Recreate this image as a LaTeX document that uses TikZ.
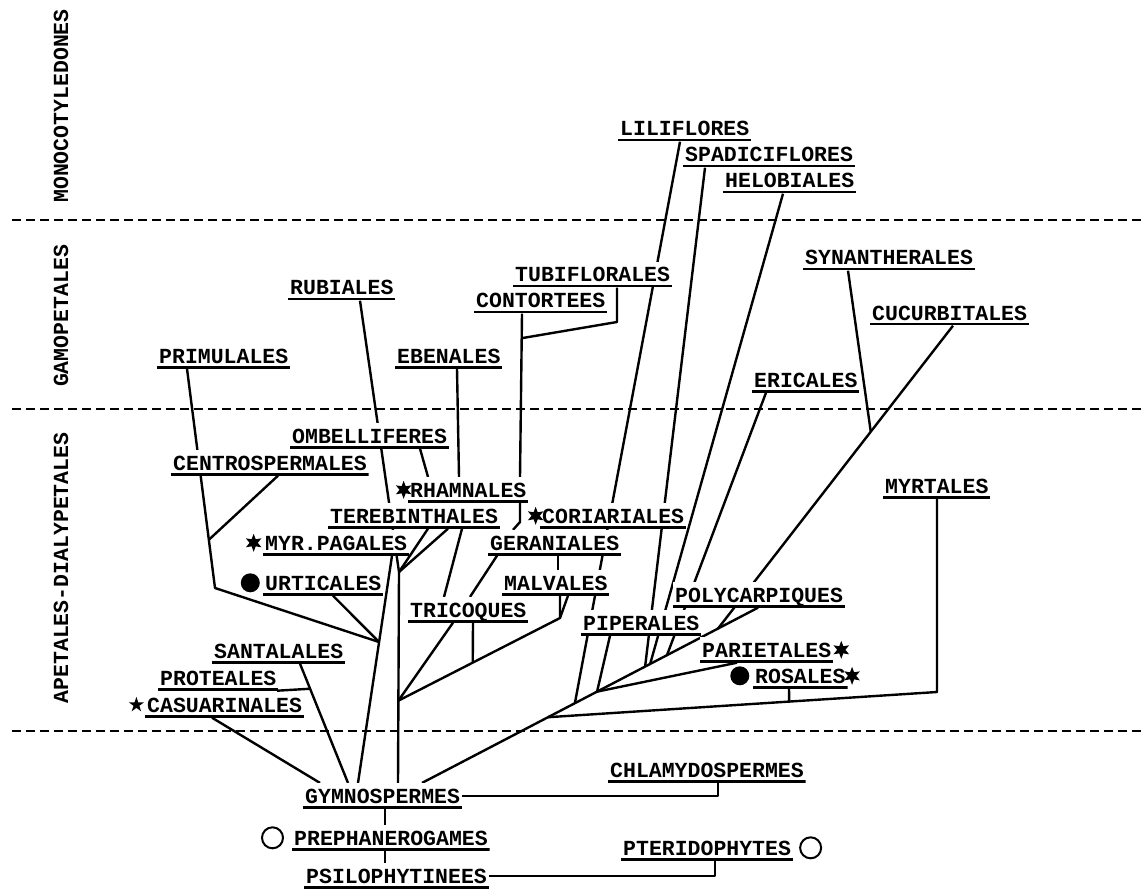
\documentclass[tikz,border=0pt]{standalone}
\usepackage{fontspec}
\newfontfamily\machine{Liberation Mono}
\usetikzlibrary{positioning}
\usetikzlibrary{shapes.geometric}
\usetikzlibrary{calc}
\pgfdeclarelayer{background}
\pgfsetlayers{background,main}

\begin{document}
\begin{tikzpicture}[x=1pt,y=-1pt,
  ordre/.style={font=\machine\bfseries\fontsize{21.5}{24}\selectfont,
    anchor=base west,fill=white,inner xsep=2pt,inner ysep=5.5pt,text depth=0pt,
    path picture={\draw[line width=2.6pt]
      ([yshift=1.3pt]path picture bounding box.south west) --
      ([yshift=1.3pt]path picture bounding box.south east);}},
  cote/.style={font=\machine\bfseries\fontsize{21.5}{24}\selectfont,rotate=90},
  lien/.style={black,line width=2.4pt,line join=round},
  tiret/.style={black,line width=2.2pt,dash pattern=on 9pt off 5pt},
  etoile/.style={star,star points=6,star point ratio=2.2,fill=black,inner sep=0pt,minimum size=18pt},
  disque/.style={circle,fill=black,inner sep=0pt,minimum size=19pt},
  rond/.style={circle,draw=black,line width=2pt,inner sep=0pt,minimum size=21pt}]

\useasboundingbox (0,0) rectangle (1145,890);

\foreach \Yc in {220,409,731}
{
  \draw[tiret] (12,\Yc) -- (1145,\Yc);
}

\node[cote] (mono) at (61,106) {MONOCOTYLEDONES};
\node[cote] (gamo) at (61,316) {GAMOPETALES};
\node[cote] (apet) at (61,568) {APETALES-DIALYPETALES};

% ordres
\foreach \nom/\Xc/\Yc/\texto in {lili/618/136/LILIFLORES,spad/683/162/SPADICIFLORES,
  helo/723/188/HELOBIALES,tubi/513/282/TUBIFLORALES,cont/474/308/CONTORTEES,
  rubi/288/295/RUBIALES,syna/803/265/SYNANTHERALES,cucu/870/320/CUCURBITALES,
  prim/157/363/PRIMULALES,eben/395/363/EBENALES,eric/752/387/ERICALES,
  ombe/290/443/OMBELLIFERES,cent/171/470/CENTROSPERMALES,rham/408/497/RHAMNALES,
  myrt/883/493/MYRTALES,tere/328/523/TEREBINTHALES,cori/540/523/CORIARIALES,
  gera/488/550/GERANIALES,myrp/263/550/MYR.PAGALES,urti/263/590/URTICALES,
  malv/502/590/MALVALES,poly/673/602/POLYCARPIQUES,tric/408/617/TRICOQUES,
  pipe/581/630/PIPERALES,pari/700/657/PARIETALES,rosa/753/683/ROSALES,
  sant/212/658/SANTALALES,prot/158/685/PROTEALES,casu/145/712/CASUARINALES,
  chla/608/777/CHLAMYDOSPERMES,gymn/303/803/GYMNOSPERMES,prep/292/845/PREPHANEROGAMES,
  pter/621/855/PTERIDOPHYTES,psil/304/883/PSILOPHYTINEES}
{
  \node[ordre] (\nom) at (\Xc,\Yc) {\texto};
}

\node[etoile,left=0pt of rham] (srham) {};
\node[etoile,left=0pt of cori] (scori) {};
\node[etoile,left=5pt of myrp] (smyrp) {};
\node[star,star points=5,star point ratio=2.6,fill=black,inner sep=0pt,minimum size=16pt,
  left=4pt of casu] (scasu) {};
\node[etoile,right=3.5pt of pari] (spari) {};
\node[etoile,right=0pt of rosa] (srosa) {};
\node[disque,left=3pt of urti] (durti) {};
\node[disque,left=3.5pt of rosa] (drosa) {};
\node[rond,left=8pt of prep] (rprep) {};
\node[rond,right=6pt of pter] (rpter) {};

\begin{pgfonlayer}{background}
\path ([xshift=119]gymn.north west) coordinate (d0)
  -- ([xshift=85]poly.south west) coordinate (d1);
\coordinate (k1) at ($(d0)!0.455!(d1)$);
\coordinate (k2) at ($(d0)!0.521!(d1)$);
\coordinate (k3) at ($(d0)!0.664!(d1)$);
\coordinate (k4) at ($(d0)!0.679!(d1)$);
\coordinate (k5) at ($(d0)!0.729!(d1)$);
\coordinate (k6) at ($(d0)!0.881!(d1)$);
\coordinate (k9) at ($(d0)!0.375!(d1)$);
\coordinate (k8) at (937,692);
\coordinate (k10) at ($(k8)!0.38!(k9)$);
\coordinate (c0) at ([xshift=83]cucu.south west);
\coordinate (k7) at ($(c0)!0.35!(k6)$);

\draw[lien] (d0) -- (d1);
\draw[lien] ([xshift=62]lili.south west) -- (k1);
\draw[lien] ([xshift=22]spad.south west) -- (k3);
\draw[lien] ([xshift=60]helo.south west) -- (k4);
\draw[lien] ([xshift=14]eric.south west) -- (k5);
\draw[lien] (c0) -- (k6);
\draw[lien] ([xshift=45]syna.south west) -- (k7);
\draw[lien] ([xshift=29]pipe.south west) -- (k2);
\draw[lien] ([xshift=37]pari.south west) -- (k2);
\draw[lien] ([xshift=54]myrt.south west) -- (k8) -- (k9);
\draw[lien] ([xshift=36]rosa.south west) -- (k10);

% cote gauche
\coordinate (g1) at ([xshift=55]gymn.north west);
\coordinate (h1) at ($([xshift=129]myrp.south west)!0.38!(g1)$);
\coordinate (g2) at ([xshift=95]gymn.north west);
\coordinate (h2) at (399,572);
\coordinate (h3) at ($(h2)!0.61!(g2)$);
\coordinate (k14) at (560,618);
\coordinate (k15) at ($(k14)!0.54!(h3)$);
\coordinate (k11) at ($([xshift=88]sant.south west)!0.21!([xshift=45]gymn.north west)$);
\coordinate (k12) at (215,588);
\coordinate (k13) at ($([xshift=30]prim.south west)!0.78!(k12)$);
\coordinate (k16) at (520,522);
\coordinate (k17) at ($([xshift=48]cont.south west)!0.15!([xshift=112]rham.north west)$);
\coordinate (k18) at (617,322);

\draw[lien] ([xshift=67]casu.south west) -- ([xshift=17]gymn.north west);
\draw[lien] ([xshift=88]sant.south west) -- ([xshift=45]gymn.north west);
\draw[lien] ([xshift=119]prot.south west) -- (k11);
\draw[lien] ([xshift=129]myrp.south west) -- (g1);
\draw[lien] ([xshift=70]urti.south west) -- (h1);
\draw[lien] ([xshift=30]prim.south west) -- (k12) -- (h1);
\draw[lien] ([xshift=107]cent.south west) -- (k13);
\draw[lien] (g2) -- (h2);
\draw[lien] ([xshift=72]rubi.south west) -- (h2);
\draw[lien] ([xshift=100]tere.south west) -- (h2);
\draw[lien] ([xshift=120]tere.south west) -- (h2);
\draw[lien] ([xshift=134]tere.south west) -- ([xshift=36]tric.north west);
\draw[lien] ([xshift=45]tric.south west) -- (h3);
\draw[lien] ([xshift=65]tric.south west) -- (k15);
\draw[lien] ([xshift=58]malv.south west) -- (k14) -- (h3);
\draw[lien] ([xshift=66]malv.south west) -- (k14);
\draw[lien] ([xshift=70]gera.south west) -- ([xshift=56]malv.north west);
\draw[lien] ([xshift=9]gera.south west) -- ([xshift=62]tric.north west);
\draw[lien] ([xshift=112]rham.south west) -- (k16) -- ([xshift=25]gera.north west);
\draw[lien] ([xshift=130]ombe.south west) -- ([xshift=20]rham.north west);
\draw[lien] ([xshift=62]eben.south west) -- ([xshift=51]rham.north west);
\draw[lien] ([xshift=48]cont.south west) -- ([xshift=112]rham.north west);
\draw[lien] ([xshift=104]tubi.south west) -- (k18) -- (k17);

% en bas
\draw[lien] (gymn.east) -| ([xshift=110]chla.south west);
\draw[lien] (psil.east) -| ([xshift=94]pter.south west);
\draw[lien] ([xshift=82]gymn.south west) -- ([xshift=93]prep.north west);
\draw[lien] ([xshift=93]prep.south west) -- ([xshift=81]psil.north west);
\end{pgfonlayer}
\end{tikzpicture}
\end{document}
